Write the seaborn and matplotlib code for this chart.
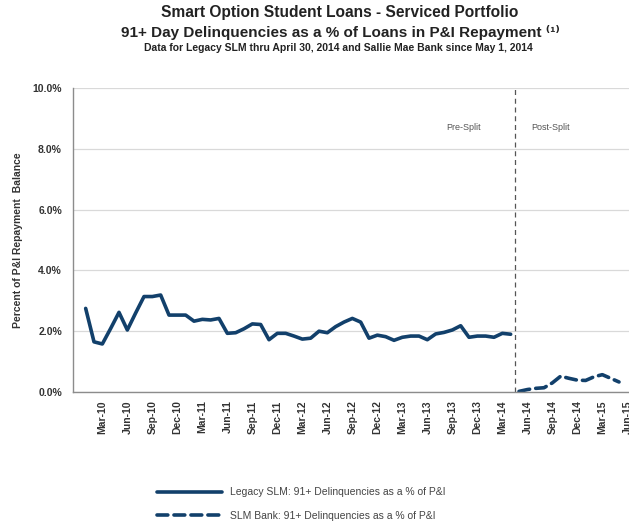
import numpy as np
import pandas as pd
import matplotlib
matplotlib.use("Agg")
import matplotlib.pyplot as plt
import seaborn as sns
from matplotlib.lines import Line2D

# monthly values, Legacy SLM Jan-10 .. Apr-14, SLM Bank May-14 .. May-15
legacy_start = "2010-01"
legacy = [2.75, 1.65, 1.58, 2.09, 2.62, 2.04, 2.60, 3.14, 3.14, 3.19,
          2.53, 2.53, 2.53, 2.33, 2.39, 2.37, 2.42, 1.93, 1.95, 2.08,
          2.24, 2.22, 1.72, 1.93, 1.93, 1.84, 1.74, 1.77, 2.00, 1.95,
          2.15, 2.30, 2.42, 2.30, 1.77, 1.87, 1.82, 1.70, 1.80, 1.84,
          1.84, 1.72, 1.91, 1.96, 2.04, 2.18, 1.80, 1.84, 1.84, 1.80,
          1.93, 1.90]
bank_start = "2014-05"
bank = [0.02, 0.08, 0.12, 0.14, 0.30, 0.52, 0.45, 0.39, 0.38, 0.50,
        0.57, 0.45, 0.33]

tick_labels = ["Mar-10", "Jun-10", "Sep-10", "Dec-10", "Mar-11", "Jun-11",
               "Sep-11", "Dec-11", "Mar-12", "Jun-12", "Sep-12", "Dec-12",
               "Mar-13", "Jun-13", "Sep-13", "Dec-13", "Mar-14", "Jun-14",
               "Sep-14", "Dec-14", "Mar-15", "Jun-15"]
y_ticks = [0, 2, 4, 6, 8, 10]

legacy_name = "Legacy SLM: 91+ Delinquencies as a % of P&I"
bank_name = "SLM Bank: 91+ Delinquencies as a % of P&I"

sns.set_style("white")
plt.rcParams["font.family"] = ["Liberation Sans", "DejaVu Sans"]

navy = "#12406b"
grey_txt = "#333333"
dash = (3.0, 1.7)

# month index since Jan-10
def month_idx(start, n):
    d = pd.period_range(start, periods=n, freq="M")
    base = pd.Period("2010-01", freq="M")
    return [(p - base).n for p in d]

df_leg = pd.DataFrame({"m": month_idx(legacy_start, len(legacy)), "v": legacy})
df_bank = pd.DataFrame({"m": month_idx(bank_start, len(bank)), "v": bank})

fig = plt.figure(figsize=(6.29, 5.25), dpi=100)
ax = fig.add_axes([73 / 629, 1 - 392 / 525, 1 - 73 / 629, (392 - 88) / 525])

sns.lineplot(data=df_leg, x="m", y="v", ax=ax, color=navy, linewidth=2.6,
             solid_joinstyle="round", solid_capstyle="round")
sns.lineplot(data=df_bank, x="m", y="v", ax=ax, color=navy, linewidth=2.6,
             dashes=False)
ax.lines[-1].set_dashes(dash)
ax.lines[-1].set_dash_capstyle("round")

split = df_leg["m"].iloc[-1] + 0.5
ax.axvline(split, color="#555555", lw=0.9, ls=(0, (4, 3)), zorder=1)

ax.set_ylim(0, 10)
ax.set_xlim(-1.52, 65.2)
ax.set_yticks(y_ticks)
ax.set_yticklabels([f"{t:.1f}%" for t in y_ticks], fontsize=7.5,
                   fontweight="bold", color=grey_txt)
ax.set_xticks(np.arange(2, 2 + 3 * len(tick_labels), 3))
ax.set_xticklabels(tick_labels, rotation=90, fontsize=7.5,
                   fontweight="bold", color=grey_txt)
ax.tick_params(axis="y", length=0, pad=8)
ax.tick_params(axis="x", length=0, pad=6)
ax.yaxis.grid(True, color="#d9d9d9", lw=0.9)
ax.set_axisbelow(True)
for s in ["top", "right"]:
    ax.spines[s].set_visible(False)
for s in ["left", "bottom"]:
    ax.spines[s].set_color("#8c8c8c")
    ax.spines[s].set_linewidth(1.0)
ax.set_xlabel("")
ax.set_ylabel("Percent of P&I Repayment  Balance", fontsize=7.5,
              fontweight="bold", color=grey_txt, labelpad=7)

ax.text(split - 6.2, 8.7, "Pre-Split", fontsize=6.5, color="#555555",
        ha="center", va="center")
ax.text(split + 4.3, 8.7, "Post-Split", fontsize=6.5, color="#555555",
        ha="center", va="center")

fig.text(340 / 629, 1 - 13 / 525, "Smart Option Student Loans - Serviced Portfolio",
         ha="center", va="center", fontsize=11.2, fontweight="bold", color="#222222")
fig.text(340 / 629, 1 - 32 / 525,
         "91+ Day Delinquencies as a % of Loans in P&I Repayment \u207d\u00b9\u207e",
         ha="center", va="center", fontsize=11, fontweight="bold", color="#222222")
fig.text(338 / 629, 1 - 48 / 525,
         "Data for Legacy SLM thru April 30, 2014 and Sallie Mae Bank since May 1, 2014",
         ha="center", va="center", fontsize=7.5, fontweight="bold", color="#222222")

handles = [Line2D([], [], color=navy, lw=2.6),
           Line2D([], [], color=navy, lw=2.6, dashes=dash,
                  dash_capstyle="round")]
fig.legend(handles, [legacy_name, bank_name], loc="upper left",
           bbox_to_anchor=(148 / 629, 1 - 478 / 525), frameon=False,
           fontsize=7.5, handlelength=6.2, labelspacing=1.3,
           labelcolor="#444444")

fig.savefig("out.png", dpi=100)
